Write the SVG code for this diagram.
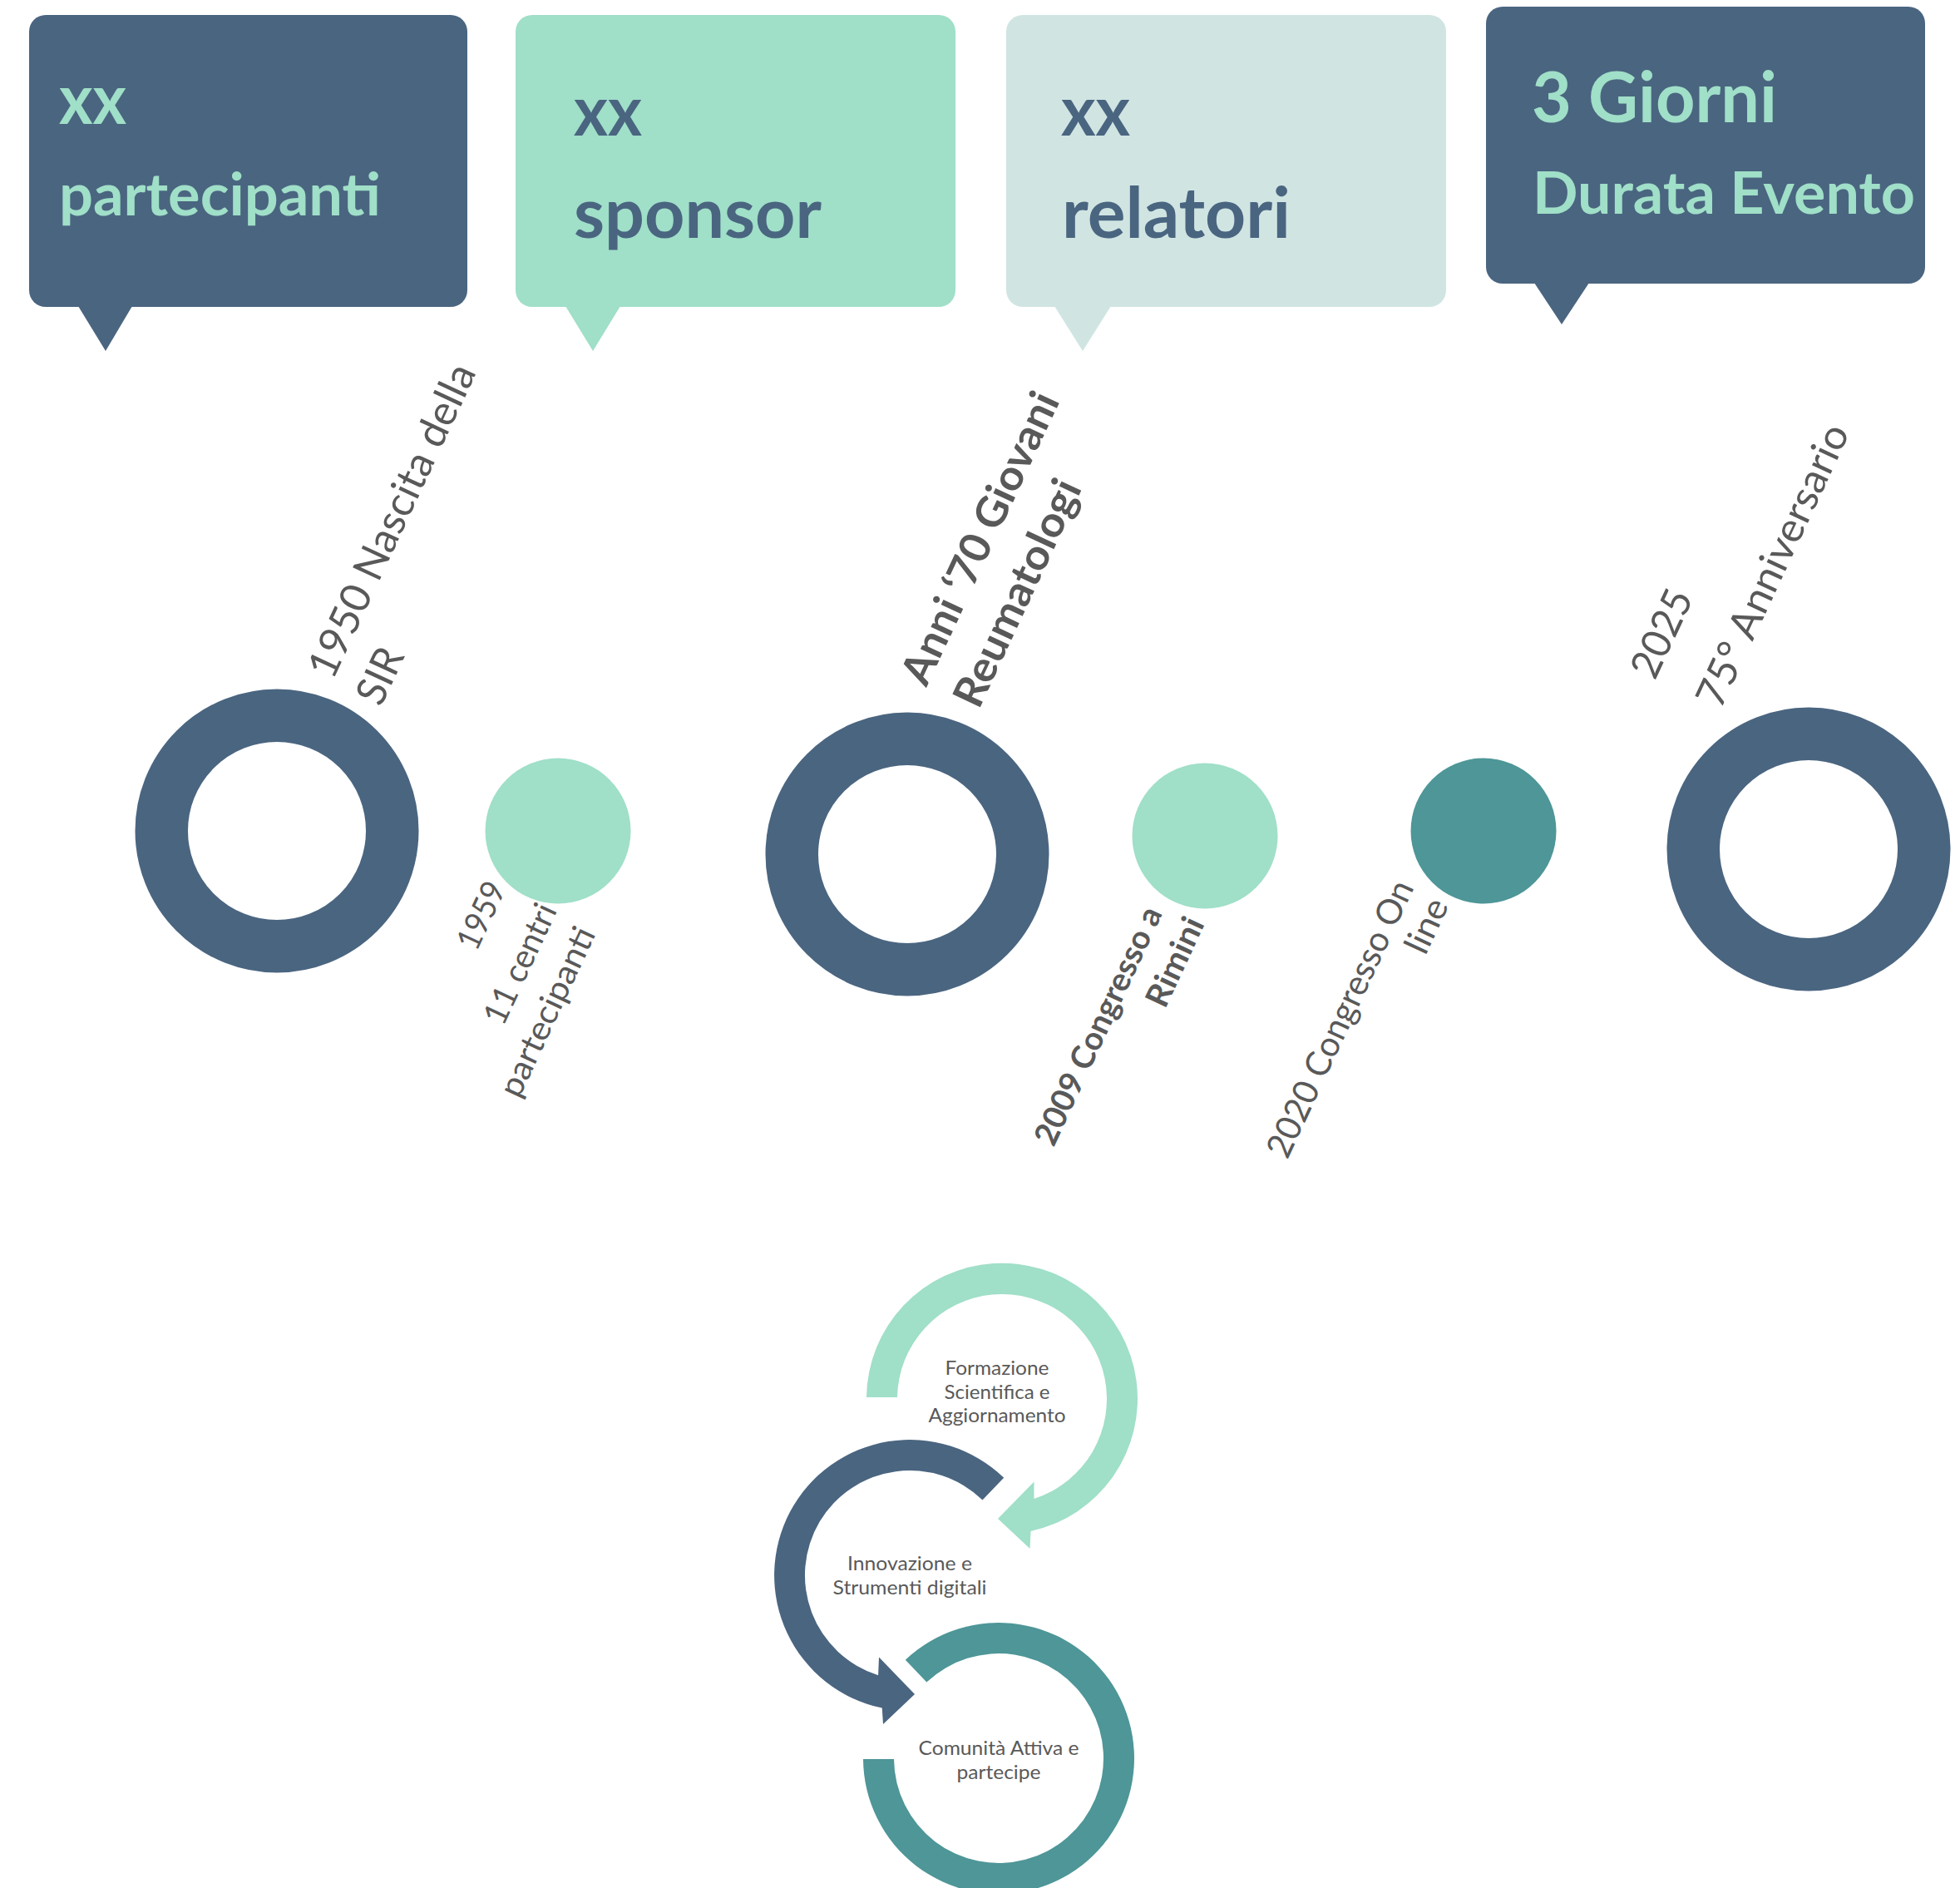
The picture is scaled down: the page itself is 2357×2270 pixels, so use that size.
<svg xmlns="http://www.w3.org/2000/svg" width="2357" height="2270" viewBox="0 0 2357 2270">
<style>
 .bx{font-family:Lato,"Liberation Sans",sans-serif;font-weight:700}
 .lb{font-family:Lato,"Liberation Sans",sans-serif;fill:#595959}
 .bd{font-weight:700}
 .cy{font-family:Lato,"Liberation Sans",sans-serif;fill:#595959;font-size:24px;text-anchor:middle}
 .dark{fill:#4A6580}
 .mint{fill:#A0DFC8}
 .light{fill:#D0E5E2}
 .teal{fill:#4E9698}
 .ring{fill:none;stroke:#4A6580;stroke-width:63.5}
</style>
<rect width="2357" height="2270" fill="#FFFFFF"/>

<g id="box-partecipanti">
 <rect class="dark" x="35" y="18" width="527" height="351" rx="20"/>
 <polygon class="dark" points="94,368 159,368 127,422"/>
 <text class="bx" x="71" y="149" font-size="84" fill="#A0DFC8" textLength="81" lengthAdjust="spacingAndGlyphs">xx</text>
 <text class="bx" x="71" y="259" font-size="71" fill="#A0DFC8" textLength="387" lengthAdjust="spacingAndGlyphs">partecipanti</text>
</g>
<g id="box-sponsor">
 <rect class="mint" x="620" y="18" width="529" height="351" rx="20"/>
 <polygon class="mint" points="680,368 746,368 713,422"/>
 <text class="bx" x="690" y="163" font-size="85" fill="#4A6580" textLength="82" lengthAdjust="spacingAndGlyphs">xx</text>
 <text class="bx" x="690" y="286" font-size="85" fill="#4A6580" textLength="298" lengthAdjust="spacingAndGlyphs">sponsor</text>
</g>
<g id="box-relatori">
 <rect class="light" x="1210" y="18" width="529" height="351" rx="20"/>
 <polygon class="light" points="1268,368 1336,368 1302,422"/>
 <text class="bx" x="1276" y="163" font-size="85" fill="#4A6580" textLength="83" lengthAdjust="spacingAndGlyphs">xx</text>
 <text class="bx" x="1277" y="286" font-size="85" fill="#4A6580" textLength="275" lengthAdjust="spacingAndGlyphs">relatori</text>
</g>
<g id="box-durata">
 <rect class="dark" x="1787" y="8" width="528" height="333" rx="20"/>
 <polygon class="dark" points="1845,340 1911,340 1878,390"/>
 <text class="bx" x="1842" y="147" font-size="84" fill="#A0DFC8" textLength="295" lengthAdjust="spacingAndGlyphs">3 Giorni</text>
 <text class="bx" x="1843" y="257" font-size="70" fill="#A0DFC8" textLength="460" lengthAdjust="spacingAndGlyphs">Durata Evento</text>
</g>

<g id="event-1950">
 <circle class="ring" cx="333" cy="999" r="138.75"/>
 <text class="lb" font-size="50" transform="translate(400,819) rotate(-65)" textLength="410" lengthAdjust="spacingAndGlyphs">1950 Nascita della</text>
 <text class="lb" font-size="50" transform="translate(458,851) rotate(-65)" textLength="69" lengthAdjust="spacingAndGlyphs">SIR</text>
</g>
<g id="event-1959">
 <circle class="mint" cx="671" cy="999" r="87.5"/>
 <text class="lb" font-size="40" transform="translate(573,1145) rotate(-65)" textLength="85" lengthAdjust="spacingAndGlyphs">1959</text>
 <text class="lb" font-size="40" transform="translate(605,1235) rotate(-65)" textLength="155" lengthAdjust="spacingAndGlyphs">11 centri</text>
 <text class="lb" font-size="40" transform="translate(624,1322) rotate(-65)" textLength="220" lengthAdjust="spacingAndGlyphs">partecipanti</text>
</g>
<g id="event-anni70">
 <circle class="ring" cx="1091" cy="1027" r="138.75"/>
 <text class="lb bd" font-size="51" transform="translate(1114,827) rotate(-65)" textLength="381" lengthAdjust="spacingAndGlyphs">Anni ‘70 Giovani</text>
 <text class="lb bd" font-size="51" transform="translate(1177,854) rotate(-65)" textLength="295" lengthAdjust="spacingAndGlyphs">Reumatologi</text>
</g>
<g id="event-2009">
 <circle class="mint" cx="1449" cy="1005" r="87.5"/>
 <text class="lb bd" font-size="39" transform="translate(1267,1380) rotate(-65)" textLength="311" lengthAdjust="spacingAndGlyphs">2009 Congresso a</text>
 <text class="lb bd" font-size="39" transform="translate(1401,1214) rotate(-65)" textLength="114" lengthAdjust="spacingAndGlyphs">Rimini</text>
</g>
<g id="event-2020">
 <circle class="teal" cx="1784" cy="999" r="87.5"/>
 <text class="lb" font-size="42" transform="translate(1548,1395) rotate(-65)" textLength="362" lengthAdjust="spacingAndGlyphs">2020 Congresso On</text>
 <text class="lb" font-size="42" transform="translate(1714,1150) rotate(-65)" textLength="68" lengthAdjust="spacingAndGlyphs">line</text>
</g>
<g id="event-2025">
 <circle class="ring" cx="2175" cy="1021" r="138.75"/>
 <text class="lb" font-size="49" transform="translate(1990,819) rotate(-65)" textLength="111" lengthAdjust="spacingAndGlyphs">2025</text>
 <text class="lb" font-size="49" transform="translate(2069,854) rotate(-65)" textLength="369" lengthAdjust="spacingAndGlyphs">75° Anniversario</text>
</g>

<g id="cycle-formazione">
 <path class="mint" d="M1042,1680 A163,163 0 1 1 1239.5,1841 L1238.5,1862 L1200,1826 L1243.5,1781.5 L1243.5,1802 A126,126 0 1 0 1079,1680 Z"/>
 <text class="cy" x="1199" y="1653" textLength="125" lengthAdjust="spacingAndGlyphs">Formazione</text>
 <text class="cy" x="1199" y="1682" textLength="127" lengthAdjust="spacingAndGlyphs">Scientifica e</text>
 <text class="cy" x="1199" y="1710" textLength="165" lengthAdjust="spacingAndGlyphs">Aggiornamento</text>
</g>
<g id="cycle-innovazione">
 <path class="dark" d="M1207.2,1776.7 A163,163 0 1 0 1060.7,2053.6 L1062,2073 L1100,2037 L1057,1992.6 L1056.1,2014.2 A126,126 0 1 1 1181.5,1803.4 Z"/>
 <text class="cy" x="1094" y="1888" textLength="150" lengthAdjust="spacingAndGlyphs">Innovazione e</text>
 <text class="cy" x="1094" y="1917" textLength="185" lengthAdjust="spacingAndGlyphs">Strumenti digitali</text>
</g>
<g id="cycle-comunita">
 <path class="teal" d="M1088.8,1995.8 A163,163 0 1 1 1038,2115 L1075,2115 A126,126 0 1 0 1114.3,2022.6 Z"/>
 <text class="cy" x="1201" y="2110" textLength="193" lengthAdjust="spacingAndGlyphs">Comunità Attiva e</text>
 <text class="cy" x="1201" y="2139" textLength="101" lengthAdjust="spacingAndGlyphs">partecipe</text>
</g>
</svg>
